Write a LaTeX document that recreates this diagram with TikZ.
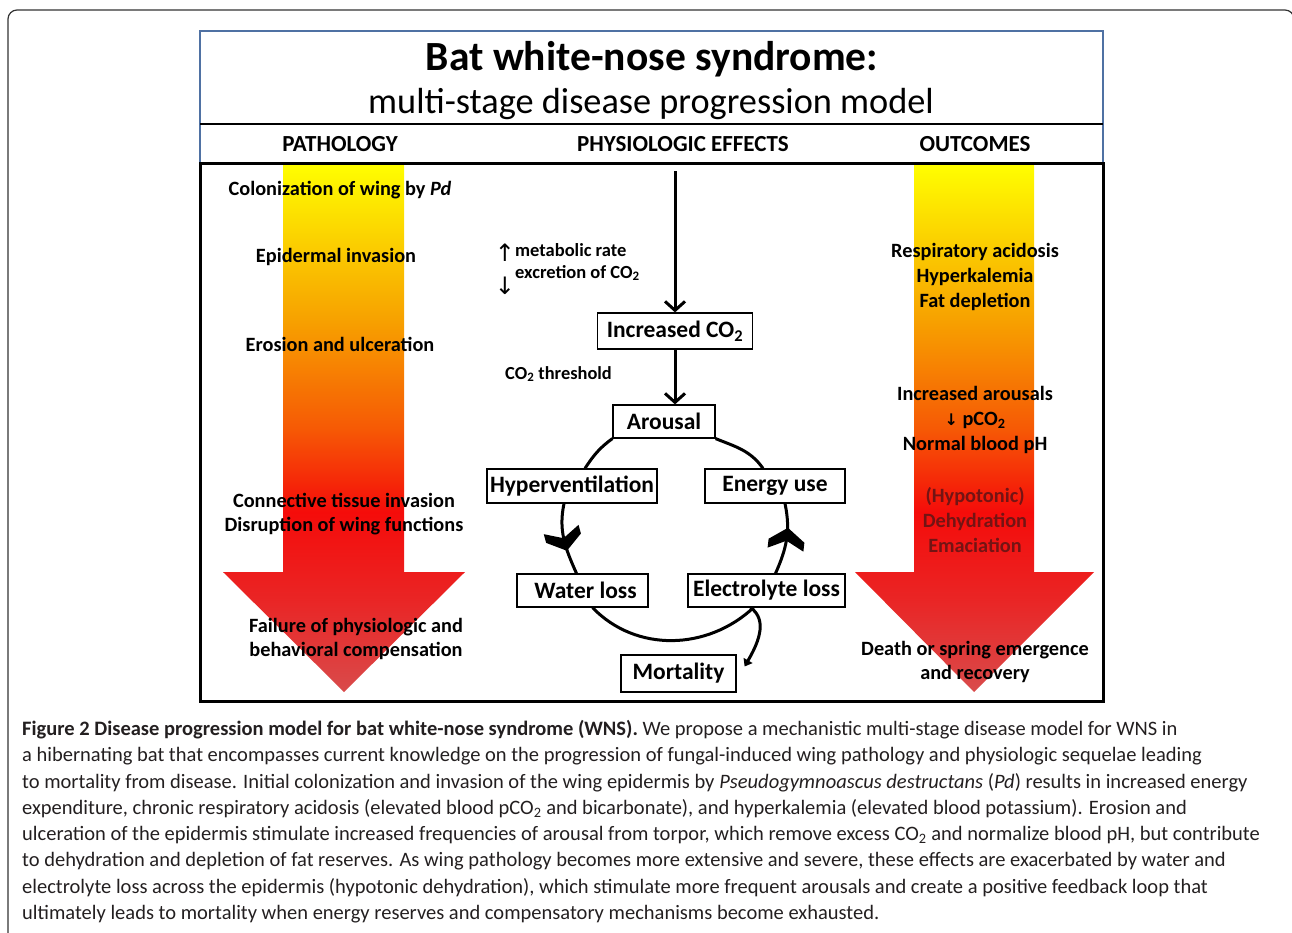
\documentclass[tikz,border=0pt]{standalone}
\usepackage{fontspec}
\setmainfont{Carlito}
\newfontfamily\arrowfont{DejaVu Sans}
\usetikzlibrary{arrows.meta,positioning,decorations.markings}

\definecolor{frameblue}{RGB}{79,113,163}
\definecolor{darkred}{RGB}{115,20,20}
\definecolor{captext}{RGB}{35,31,32}
\definecolor{grada}{RGB}{217,75,75}
\definecolor{gradb}{RGB}{234,36,36}
\definecolor{gradc}{RGB}{245,12,10}
\definecolor{gradd}{RGB}{246,90,5}
\definecolor{grade}{RGB}{247,160,0}
\definecolor{gradf}{RGB}{255,255,0}
\pgfdeclareverticalshading{batgrad}{100bp}{color(0bp)=(grada); color(25bp)=(grada); color(34bp)=(gradb); color(42bp)=(gradc); color(50bp)=(gradd); color(60bp)=(grade); color(75bp)=(gradf); color(100bp)=(gradf)}

\begin{document}
\begin{tikzpicture}[x=1pt, y=-1pt,
    box/.style={rectangle, draw, line width=1.2pt, fill=white, inner sep=0pt, font=\fontsize{23.5}{26}\selectfont\bfseries},
    head/.style={anchor=base, font=\fontsize{23}{26}\selectfont\bfseries},
    side/.style={align=center, inner sep=0pt, font=\fontsize{20.3}{24.7}\selectfont\bfseries},
    flow/.style={line width=3pt, -{Straight Barb[length=9pt,width=20pt]}},
    ring/.style={line width=3pt},
    chev/.style={postaction={decorate}, decoration={markings, mark=at position 0.55 with {\fill (8pt,0pt) -- (-5pt,-18pt) -- (-14pt,-18pt) -- (-5pt,0pt) -- (-14pt,18pt) -- (-5pt,18pt) -- cycle;}}}]
    \useasboundingbox (0,0) rectangle (1292,932);
    \draw[black!80, line width=1.2pt, rounded corners=9pt] (8,10) rectangle (1294,990);

    \draw[frameblue, line width=2pt] (200,163) -- (200,31) -- (1103,31) -- (1103,163);
    \draw[line width=1.5pt] (200,124) -- (1103,124);
    \shade[shading=batgrad] (283,163) -- (404,163) -- (404,572) -- (465,572) -- (344,692) -- (223,572) -- (283,572) -- cycle;
    \shade[shading=batgrad] (914,163) -- (1034,163) -- (1034,572) -- (1094,572) -- (974,692) -- (855,572) -- (914,572) -- cycle;
    \draw[line width=3pt] (200,163) rectangle (1103,701);

    \node (title) [anchor=base, font=\fontsize{41.5}{44}\selectfont\bfseries] at (652,70) {Bat white-nose syndrome:};
    \node (subtitle) [anchor=base, font=\fontsize{36.3}{40}\selectfont] at (651,113) {multi-stage disease progression model};
    \node (patho) [head] at (340,151) {PATHOLOGY};
    \node (physio) [head] at (683,151) {PHYSIOLOGIC EFFECTS};
    \node (outc) [head] at (975,151) {OUTCOMES};

    \node (colon) [side, anchor=base] at (340,195) {Colonization of wing by \textit{Pd}};
    \node (epid) [side, anchor=base] at (336,262) {Epidermal invasion};
    \node (eros) [side, anchor=base] at (340,351) {Erosion and ulceration};
    \node (conn) [side] at (344,514) {Connective tissue invasion\\Disruption of wing functions};
    \node (fail) [side] at (356,639) {Failure of physiologic and\\behavioral compensation};

    \node (resp) [side] at (975,277) {Respiratory acidosis\\Hyperkalemia\\Fat depletion};
    \node (incar) [side] at (975,420) {Increased arousals\\{\arrowfont\fontsize{16}{16}\selectfont↓} pCO\textsubscript{2}\\Normal blood pH};
    \node (hypo) [side, text=darkred] at (975,520) {(Hypotonic)\\Dehydration\\Emaciation};
    \node (death) [side] at (975,662) {Death or spring emergence\\and recovery};

    \node (up) [inner sep=0pt, font=\fontsize{24}{24}\arrowfont] at (505,253) {↑};
    \node (down) [inner sep=0pt, font=\fontsize{24}{24}\arrowfont] at (505,286) {↓};
    \node (metab) [anchor=west, align=left, inner sep=0pt, font=\fontsize{18.5}{22}\selectfont\bfseries] at (515,262) {metabolic rate\\excretion of CO\textsubscript{2}};
    \node (thresh) [anchor=base west, inner sep=0pt, font=\fontsize{18.4}{20}\selectfont\bfseries] at (505,379) {CO\textsubscript{2} threshold};

    \coordinate (start) at (675,171);
    \node (incco) [box, minimum width=155pt, minimum height=36pt] at (675,331) {Increased CO\textsubscript{2}};
    \node (arousal) [box, minimum width=102pt, minimum height=33pt] at (664,421.5) {Arousal};
    \node (hyper) [box, minimum width=170pt, minimum height=34pt] at (572,486) {Hyperventilation};
    \node (energy) [box, minimum width=140pt, minimum height=34pt] at (775,486) {Energy use};
    \node (water) [box, minimum width=131pt, minimum height=33pt] at (582.5,590.5) {\hspace{6pt}Water loss};
    \node (elec) [box, minimum width=157pt, minimum height=33pt] at (766.5,590.5) {Electrolyte loss};
    \node (mort) [box, minimum width=115pt, minimum height=37pt] at (678.5,673.5) {Mortality};

    \draw[flow] (start) -- (incco.north);
    \draw[flow] (incco.south) -- (incco.south |- arousal.north);
    \draw[ring] (arousal.south west) to[out=216, in=57] ([xshift=13pt]hyper.north);
    \draw[ring, chev] ([xshift=-8pt]hyper.south) to[out=258, in=114] ([xshift=-6pt]water.north);
    \draw[ring] ([xshift=10pt]water.south) to[out=314, in=223] ([xshift=-13pt]elec.south);
    \draw[ring, chev] ([xshift=9pt]elec.north) to[out=66, in=282] ([xshift=10pt]energy.south);
    \draw[ring] ([xshift=-12pt]energy.north) to[out=125, in=338] (arousal.south east);
    \draw[ring, -{Triangle[length=7pt,width=10pt]}] ([xshift=-16pt]elec.south) to[out=-35, in=60] ([xshift=8pt,yshift=7pt]mort.east);

    \node (caption) [anchor=north west, align=left, inner sep=0pt, text=captext, font=\fontsize{20.5}{26.3}\selectfont] at (22,720) {\textbf{Figure 2 Disease progression model for bat white-nose syndrome (WNS).} We propose a mechanistic multi-stage disease model for WNS in\\
    a hibernating bat that encompasses current knowledge on the progression of fungal-induced wing pathology and physiologic sequelae leading\\
    to mortality from disease. Initial colonization and invasion of the wing epidermis by \textit{Pseudogymnoascus destructans} (\textit{Pd}) results in increased energy\\
    expenditure, chronic respiratory acidosis (elevated blood pCO\textsubscript{2} and bicarbonate), and hyperkalemia (elevated blood potassium). Erosion and\\
    ulceration of the epidermis stimulate increased frequencies of arousal from torpor, which remove excess CO\textsubscript{2} and normalize blood pH, but contribute\\
    to dehydration and depletion of fat reserves. As wing pathology becomes more extensive and severe, these effects are exacerbated by water and\\
    electrolyte loss across the epidermis (hypotonic dehydration), which stimulate more frequent arousals and create a positive feedback loop that\\
    ultimately leads to mortality when energy reserves and compensatory mechanisms become exhausted.};
\end{tikzpicture}
\end{document}
